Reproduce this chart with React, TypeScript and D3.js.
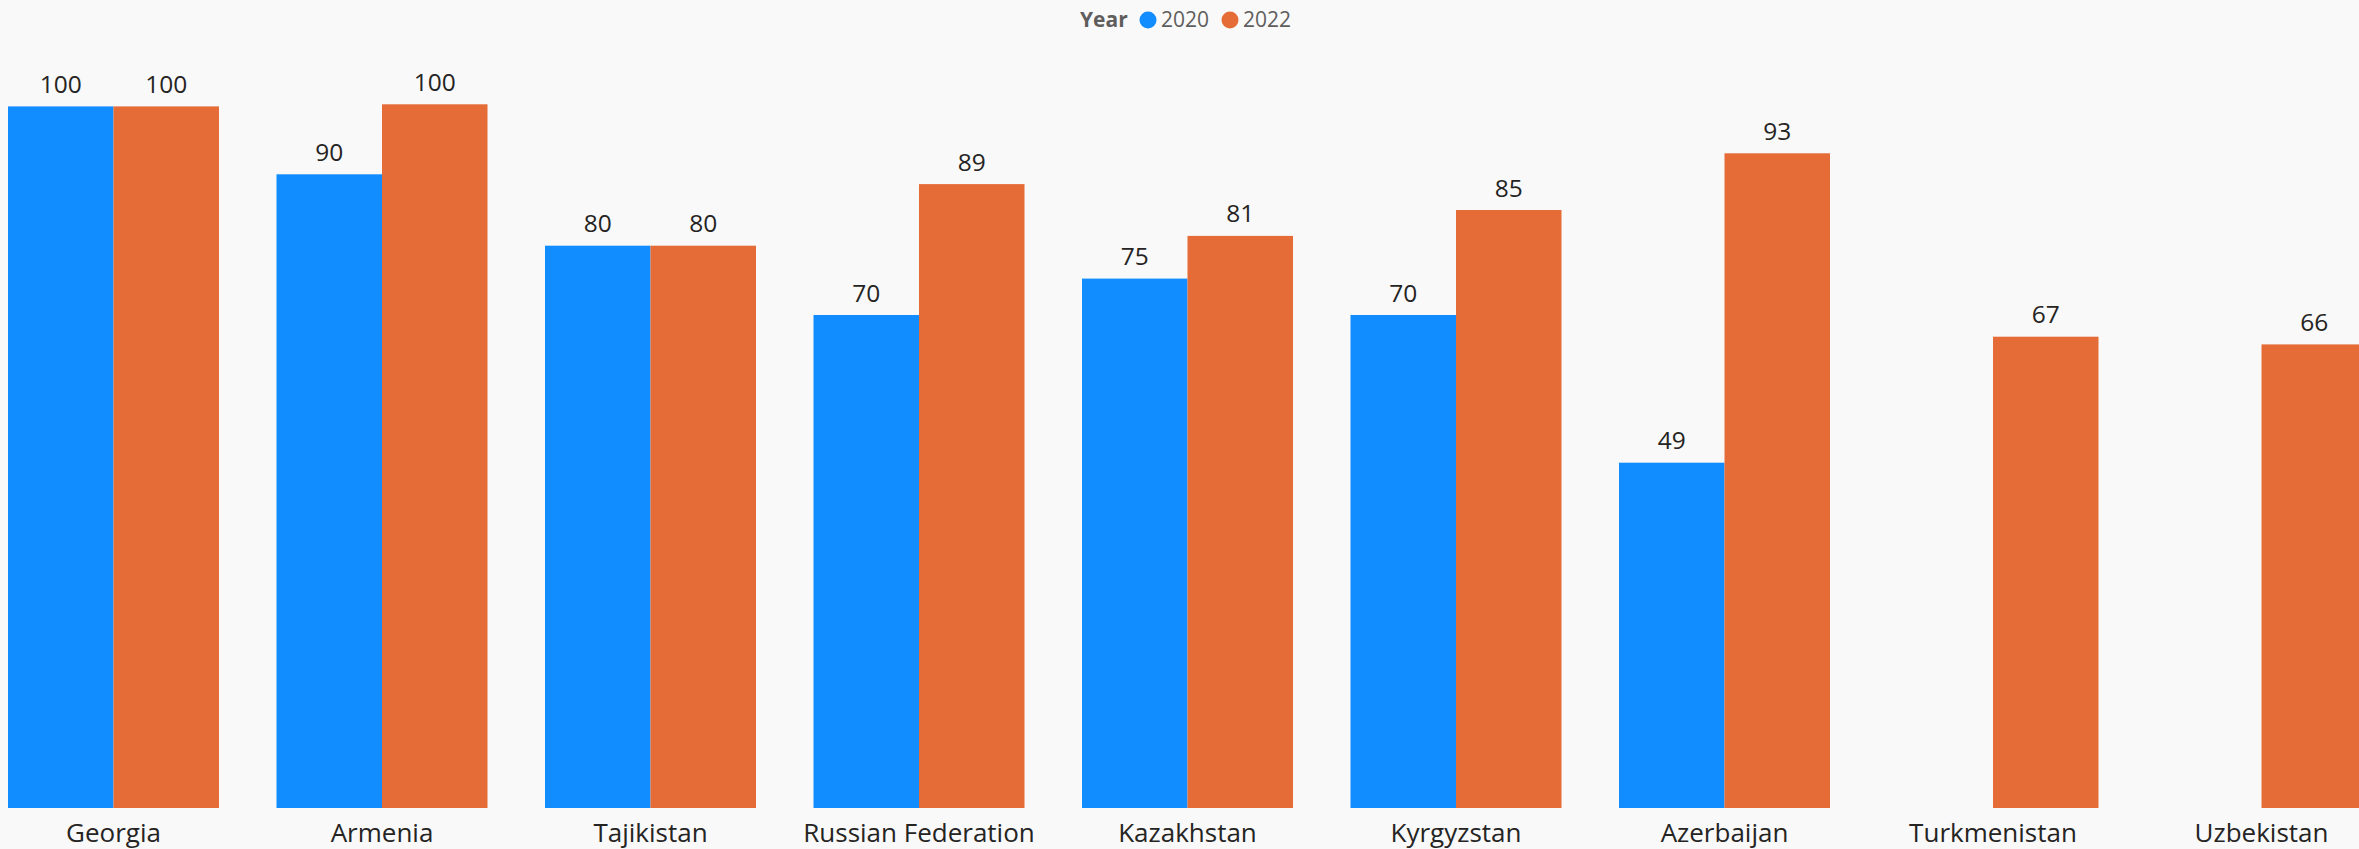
import React, { useEffect } from "react";
import * as d3 from "d3";

const categories = [
  "Georgia",
  "Armenia",
  "Tajikistan",
  "Russian Federation",
  "Kazakhstan",
  "Kyrgyzstan",
  "Azerbaijan",
  "Turkmenistan",
  "Uzbekistan",
];
const years = ["2020", "2022"];
const values2020: (number | null)[] = [99.9, 90.2, 80, 70.1, 75.3, 70.1, 49, null, null];
const values2022: (number | null)[] = [99.9, 100.2, 80, 88.8, 81.4, 85.1, 93.2, 67, 65.9];
const colors = ["#118DFF", "#E66C37"];

const W = 2359;
const H = 849;
const FONT = "'Segoe UI', 'Open Sans', 'Noto Sans', sans-serif";

export default function App() {
  useEffect(() => {
    document.body.style.margin = "0";
    document.body.style.overflow = "hidden";
    document.body.style.background = "#f9f9f9";
  }, []);

  const step = 268.5;
  const gap = 57.5;
  const x0 = d3
    .scaleBand<string>()
    .domain(categories)
    .range([8, 8 + categories.length * step - gap])
    .paddingInner(gap / step)
    .paddingOuter(0);
  const x1 = d3.scaleBand<string>().domain(years).range([0, x0.bandwidth()]).padding(0);
  const y = d3.scaleLinear().domain([0, 100]).range([805.7, 105.7]);
  const baseline = 808;
  const fmt = d3.format(".0f");
  const series = [values2020, values2022];

  return (
    <svg width={W} height={H} style={{ display: "block", background: "#f9f9f9" }}>
      <rect x={0} y={0} width={W} height={H} fill="#f9f9f9" />
      {/* legend */}
      <g fontFamily={FONT} fontSize={21}>
        <text x={1080} y={27} fill="#605E5C" fontWeight="bold">Year</text>
        {years.map((yr, i) => (
          <g key={yr} transform={`translate(${1148 + i * 82},0)`}>
            <circle cx={0} cy={20} r={8.5} fill={colors[i]} />
            <text x={13} y={27} fill="#605E5C">{yr}</text>
          </g>
        ))}
      </g>
      {categories.map((c, ci) => (
        <g key={c} transform={`translate(${x0(c)},0)`}>
          {series.map((s, si) => {
            const v = s[ci];
            if (v == null) return null;
            const bx = x1(years[si])!;
            const top = y(v);
            return (
              <g key={si}>
                <rect
                  x={bx}
                  y={top}
                  width={x1.bandwidth()}
                  height={baseline - top}
                  fill={colors[si]}
                />
                <text
                  x={bx + x1.bandwidth() / 2}
                  y={top - 13.5}
                  textAnchor="middle"
                  fontFamily={FONT}
                  fontSize={24.5}
                  fill="#252423"
                >
                  {fmt(v)}
                </text>
              </g>
            );
          })}
          <text
            x={x0.bandwidth() / 2}
            y={842}
            textAnchor="middle"
            fontFamily={FONT}
            fontSize={26}
            fill="#252423"
          >
            {c}
          </text>
        </g>
      ))}
    </svg>
  );
}
